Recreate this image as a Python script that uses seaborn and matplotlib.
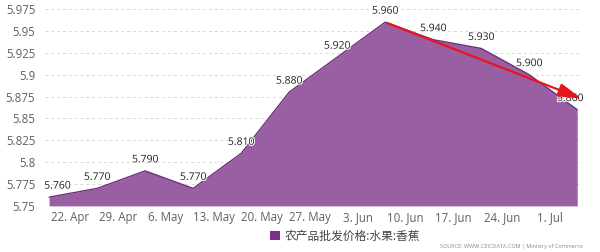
import matplotlib
matplotlib.use("Agg")
import matplotlib.pyplot as plt
import matplotlib.dates as mdates
import matplotlib.ticker as mticker
import matplotlib.patheffects as pe
import seaborn as sns
import pandas as pd
import numpy as np

dates = ["2019-04-19", "2019-04-26", "2019-05-03", "2019-05-10", "2019-05-17", "2019-05-24",
         "2019-05-31", "2019-06-07", "2019-06-14", "2019-06-21", "2019-06-28", "2019-07-05"]
prices = [5.760, 5.770, 5.790, 5.770, 5.810, 5.880, 5.920, 5.960, 5.940, 5.930, 5.900, 5.860]
series_name = "农产品批发价格:水果:香蕉"
tick_dates = ["2019-04-22", "2019-04-29", "2019-05-06", "2019-05-13", "2019-05-20", "2019-05-27",
              "2019-06-03", "2019-06-10", "2019-06-17", "2019-06-24", "2019-07-01"]
y_ticks = [5.75, 5.775, 5.8, 5.825, 5.85, 5.875, 5.9, 5.925, 5.95, 5.975]

df = pd.DataFrame({"date": pd.to_datetime(dates), "price": prices})

sns.set_style("white")
plt.rcParams['font.family'] = ['Open Sans', 'Noto Sans CJK SC', 'DejaVu Sans']

fig = plt.figure(figsize=(6.0, 2.52), dpi=100)
ax = fig.add_axes([0.075, 0.183, 0.895, 0.781])

fill_c = "#9a5fa2"
edge_c = "#6e2d7c"
ax.fill_between(df["date"], 5.75, df["price"], color=fill_c, linewidth=0, zorder=2)
sns.lineplot(data=df, x="date", y="price", ax=ax, color=edge_c, linewidth=1.0, zorder=3, legend=False)

n = len(df)
for i, (d, v) in enumerate(zip(df["date"], df["price"])):
    dx = 6 if i == 0 else (-5 if i == n - 1 else 0)
    t = ax.annotate(f"{v:.3f}", (d, v), xytext=(dx, 4), textcoords="offset points",
                    ha="center", va="bottom", fontsize=7.5, color="#222222", zorder=5)
    t.set_path_effects([pe.withStroke(linewidth=1.5, foreground="white")])

# red trend arrow
x0 = mdates.date2num(df["date"].iloc[7])
x1 = mdates.date2num(pd.Timestamp("2019-07-06"))
ax.annotate("", xy=(x1, 5.8715), xytext=(x0, 5.960),
            arrowprops=dict(arrowstyle="-|>,head_length=1.4,head_width=0.4", color="#e8141c", lw=1.6),
            zorder=6, annotation_clip=False)

ax.set_ylim(5.75, 5.975)
ax.set_xlim(mdates.date2num(pd.Timestamp("2019-04-19")) - 0.6,
            mdates.date2num(pd.Timestamp("2019-07-05")) + 0.7)
ax.set_yticks(y_ticks)
ax.yaxis.set_major_formatter(mticker.FuncFormatter(lambda v, p: f"{v:g}"))
ax.set_xticks(pd.to_datetime(tick_dates))
ax.xaxis.set_major_formatter(mdates.DateFormatter("%-d. %b"))
ax.grid(axis="y", color="#d8d8d8", linestyle=(0, (3, 3)), linewidth=0.7, zorder=0)
ax.set_axisbelow(True)
ax.tick_params(axis="both", length=0, labelsize=8.3, labelcolor="#606060")
ax.tick_params(axis="y", pad=7)
ax.tick_params(axis="x", pad=4)
ax.set_xlabel("")
ax.set_ylabel("")
for s in ax.spines.values():
    s.set_visible(False)

# legend
from matplotlib.patches import Patch
fig.legend(handles=[Patch(facecolor="#7b2e8c", edgecolor="none", label=series_name)],
           loc="center", bbox_to_anchor=(0.575, 0.063), frameon=False, fontsize=8.5,
           handlelength=0.9, handleheight=0.9, handletextpad=0.35, labelcolor="#444444")
fig.text(0.972, 0.012, "SOURCE: WWW.CEICDATA.COM | Ministry of Commerce", ha="right", va="bottom",
         fontsize=4.0, color="#888888")

fig.savefig("out.png", dpi=100)
